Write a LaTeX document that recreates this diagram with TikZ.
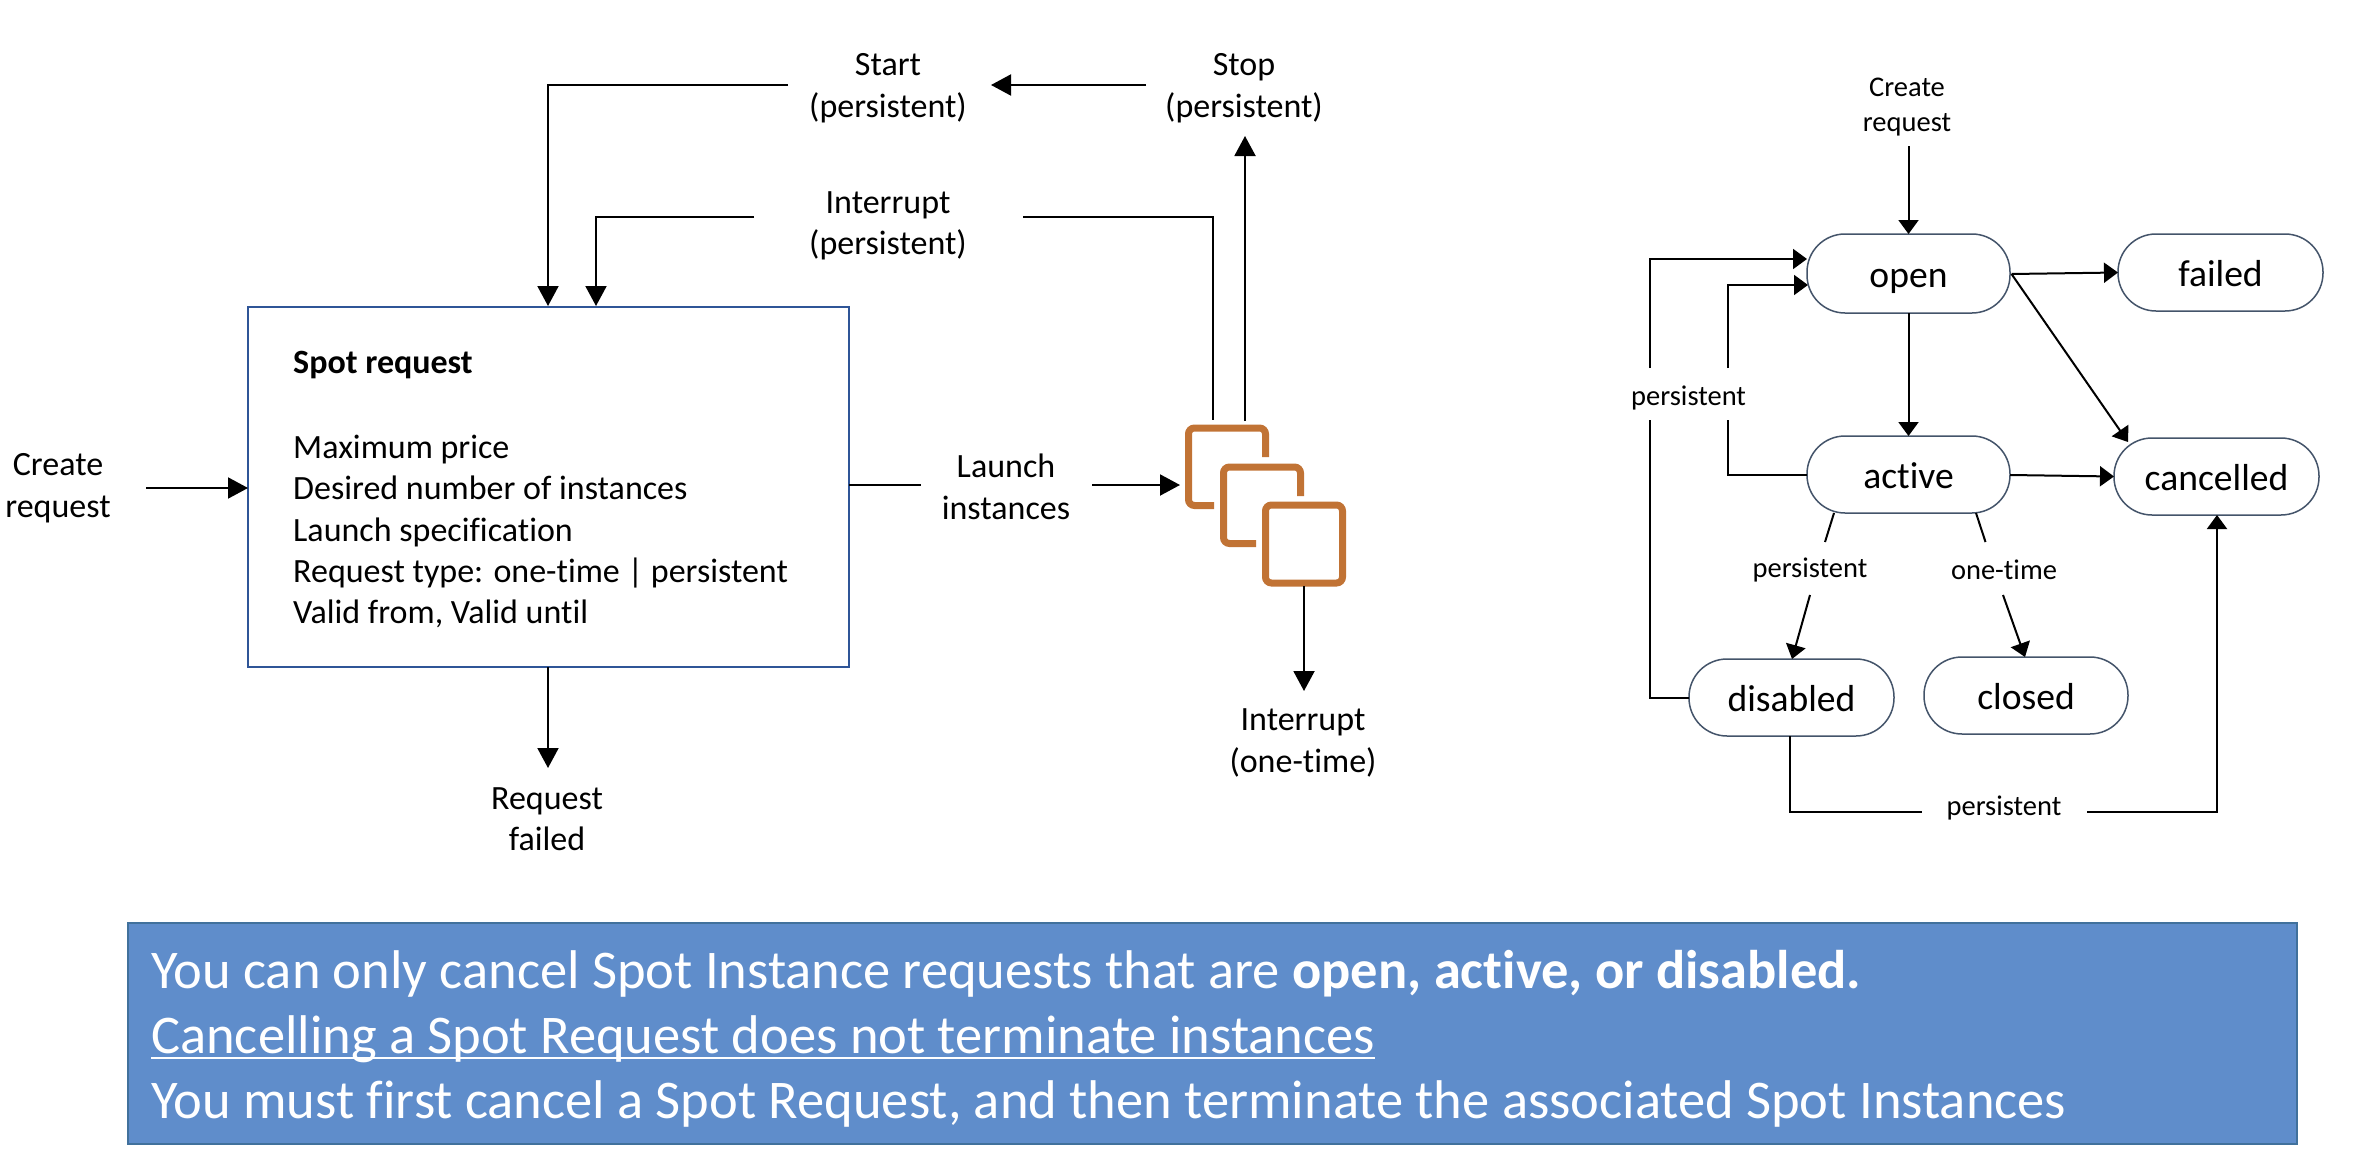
\documentclass[tikz,border=0pt]{standalone}
\usepackage{fontspec}
\usetikzlibrary{arrows.meta}
\setmainfont[Ligatures=NoCommon]{Carlito}
\definecolor{boxblue}{HTML}{2F5597}
\definecolor{pillline}{HTML}{44546A}
\definecolor{bannerfill}{HTML}{5F8DCB}
\definecolor{bannerline}{HTML}{41719C}
\definecolor{orangeicon}{HTML}{C17335}
\tikzset{
  x=1pt,y=-1pt,
  lbl/.style={align=center,font=\fontsize{34}{41.5}\selectfont,inner sep=0pt},
  conn/.style={draw=black,line width=2pt},
  arr/.style={conn,-{Triangle[length=20pt,width=21pt]},shorten >=0pt},
  rconn/.style={draw=black,line width=2pt},
  rarr/.style={rconn,-{Triangle[length=14pt,width=20pt]}},
  rlbl/.style={align=center,font=\fontsize{28.5}{35}\selectfont,inner sep=0pt},
  pill/.style={draw=pillline,line width=1.5pt,rounded corners=38pt,fill=white,inner sep=0pt,outer sep=0pt,text height=31pt,text depth=3pt,font=\fontsize{37.6}{40}\selectfont},
  icon/.style={draw=orangeicon,line width=7pt,rounded corners=6pt},
  banner/.style={anchor=base west,inner sep=0pt,text=white,font=\fontsize{54.5}{54.5}\selectfont},
}
\begin{document}
\begin{tikzpicture}
\useasboundingbox (0,0) rectangle (2370,1156);
% Spot request box
\node[draw=boxblue,line width=1.6pt,inner sep=0pt,outer sep=0pt,anchor=north west] (box) at (248,307) {\rule{0pt}{360pt}\rule{601pt}{0pt}};
\node[anchor=north west,inner sep=0pt,align=left,font=\fontsize{34}{41.2}\selectfont] (boxtext) at (293,351) {\textbf{Spot request}\\[44pt]Maximum price\\Desired number of instances\\Launch specification\\Request type: one-time | persistent\\Valid from, Valid until};
% labels left diagram
\node[lbl] (start) at (888,88) {Start\\(persistent)};
\node[lbl] (stop) at (1244,88) {Stop\\(persistent)};
\node[lbl] (intp) at (888,226) {Interrupt\\(persistent)};
\node[lbl] (create) at (58,488) {Create\\request};
\node[lbl] (launch) at (1006,487) {Launch\\instances};
\node[lbl] (into) at (1303,743) {Interrupt\\(one-time)};
\node[lbl] (rfail) at (547,819) {Request\\failed};
% icon
\draw[icon] (1265.5,457) -- (1265.5,428) -- (1188.5,428) -- (1188.5,505.5) -- (1214,505.5);
\draw[icon] (1300.5,496) -- (1300.5,467) -- (1223.5,467) -- (1223.5,543.5) -- (1256,543.5);
\node[icon,inner sep=0pt,outer sep=0pt,anchor=north west] (inst) at (1265.5,505) {\rule{0pt}{78pt}\rule{77pt}{0pt}};
\coordinate (instin) at (1180,485);
\coordinate (ia) at (1213,420);
\coordinate (ib) at (1245,421);
% connectors left
\coordinate (s1) at (788,85);
\draw[arr] (s1) -- (548,85) -- (548,306);
\coordinate (i1) at (754,217);
\draw[arr] (i1) -- (596,217) -- (596,306);
\coordinate (i2) at (1023,217);
\draw[conn] (i2) -- (1213,217) -- (ia);
\coordinate (st) at (1245,136);
\draw[arr] (ib) -- (st);
\coordinate (sa) at (1146,85);
\coordinate (sb) at (991,85);
\draw[arr] (sa) -- (sb);
\coordinate (c1) at (146,488);
\draw[arr] (c1) -- (248,488);
\coordinate (l1) at (921,485);
\coordinate (l2) at (1092,485);
\draw[conn] (849,485) -- (l1);
\draw[arr] (l2) -- (instin);
\coordinate (o1) at (1304,691);
\draw[arr] (1304,586) -- (o1);
\coordinate (f1) at (548,768);
\draw[arr] (548,667) -- (f1);
% state pills
\node[pill,minimum width=203pt,minimum height=79pt] (open) at (1908.5,273.5) {open};
\node[pill,minimum width=205pt,minimum height=77pt] (failed) at (2220.5,272.5) {failed};
\node[pill,minimum width=203pt,minimum height=77pt] (active) at (1908.5,474.5) {active};
\node[pill,minimum width=205pt,minimum height=77pt] (cancelled) at (2216.5,476.5) {cancelled};
\node[pill,minimum width=205pt,minimum height=77pt] (disabled) at (1791.5,697.5) {disabled};
\node[pill,minimum width=204pt,minimum height=77pt] (closed) at (2026,695.5) {closed};
% labels right
\node[rlbl] (rcreate) at (1907,107) {Create\\request};
\node[rlbl] (p1) at (1688.6,398) {persistent};
\node[rlbl] (p2) at (1810,570) {persistent};
\node[rlbl] (ot) at (2004,570) {one-time};
\node[rlbl] (p3) at (2004,808) {persistent};
% connectors right
\coordinate (rc) at (1908.5,146);
\draw[rarr] (rc) -- (open.north -| rc);
\draw[rarr] (open.south -| rc) -- (active.north -| rc);
\coordinate (oe) at (2011.5,274);
\draw[rarr] (oe) -- (failed.west);
\coordinate (cn) at (2128,442);
\draw[rarr] (oe) -- (cn);
\draw[rarr] (2010,475) -- (cancelled.west);
% outer persistent
\coordinate (a1) at (1650,420);
\coordinate (a2) at (1650,368);
\draw[rconn] (disabled.west) -- (1650,697.5) -- (a1);
\draw[rarr] (a2) -- (1650,259) -- (1807,259);
\coordinate (b1) at (1728,420);
\coordinate (b2) at (1728,368);
\draw[rconn] (active.west) -- (1728,474.5) -- (b1);
\draw[rarr] (b2) -- (1728,285) -- (1808,285);
% to disabled
\coordinate (d1) at (1834,513);
\coordinate (d2) at (1825,542);
\coordinate (d3) at (1810,595);
\coordinate (d4) at (1792,659);
\draw[rconn] (d1) -- (d2);
\draw[rarr] (d3) -- (d4);
% to closed
\coordinate (e1) at (1976,513);
\coordinate (e2) at (1985.5,542);
\coordinate (e3) at (2003,595);
\coordinate (e4) at (2025,657);
\draw[rconn] (e1) -- (e2);
\draw[rarr] (e3) -- (e4);
% disabled to cancelled
\coordinate (g1) at (1922,812);
\coordinate (g2) at (2087,812);
\draw[rconn] (1790,736) -- (1790,812) -- (g1);
\draw[rarr] (g2) -- (2217,812) -- (2217,515);
% banner
\fill[bannerfill] (128,923) rectangle (2297,1144);
\draw[bannerline,line width=2pt] (128,923) rectangle (2297,1144);
\node[banner] (t1) at (151,988) {You can only cancel Spot Instance requests that are \textbf{open, active, or disabled.}};
\node[banner] (t2) at (151,1053) {Cancelling a Spot Request does not terminate instances};
\draw[white,line width=2.5pt] (t2.base west |- 151,1058) -- (t2.base east |- 151,1058);
\node[banner] (t3) at (151,1118) {You must first cancel a Spot Request, and then terminate the associated Spot Instances};
\end{tikzpicture}
\end{document}
